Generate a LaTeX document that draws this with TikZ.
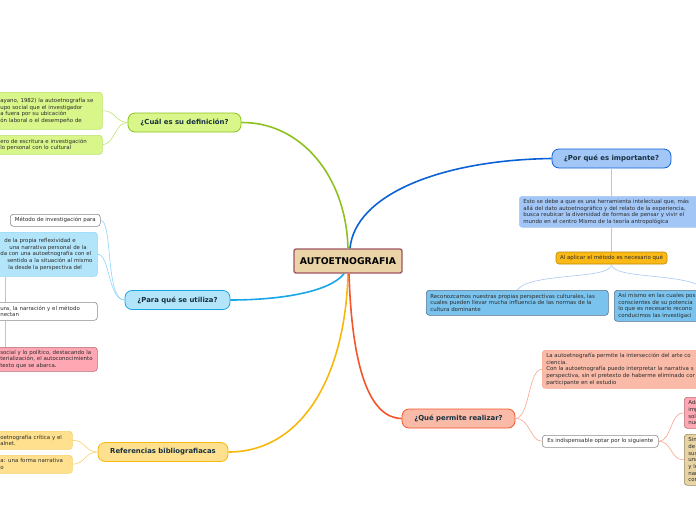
\documentclass[tikz,border=0pt]{standalone}
\usepackage{fontspec}
\setmainfont{DejaVu Sans}
\usetikzlibrary{positioning,calc}

\definecolor{rootfill}{HTML}{E9D3A7}
\definecolor{rootline}{HTML}{9E5560}
\definecolor{topictext}{HTML}{173040}
\definecolor{leaftext}{HTML}{2B2B2B}
\definecolor{greyline}{HTML}{8A8A8A}
% definicion
\definecolor{deffill}{HTML}{D8F68A}
\definecolor{defline}{HTML}{8DC21E}
\definecolor{deftwig}{HTML}{BCE46A}
% para que
\definecolor{usafill}{HTML}{B2E5FA}
\definecolor{usaline}{HTML}{18A6E8}
\definecolor{usatwig}{HTML}{8ED6F7}
\definecolor{pinkfill}{HTML}{FFA8B4}
\definecolor{pinkline}{HTML}{B86B78}
% referencias
\definecolor{reffill}{HTML}{FFE08E}
\definecolor{refline}{HTML}{F8B70C}
\definecolor{reftwig}{HTML}{F9D26A}
% importante
\definecolor{impfill}{HTML}{A2C7F7}
\definecolor{impline}{HTML}{0B62D6}
\definecolor{imptwig}{HTML}{A9C8F3}
\definecolor{ambfill}{HTML}{FBB916}
\definecolor{ambline}{HTML}{BD8606}
\definecolor{skyfill}{HTML}{7AC3EE}
\definecolor{skyline}{HTML}{55708A}
% permite
\definecolor{perfill}{HTML}{F9BAA8}
\definecolor{perline}{HTML}{F2552A}
\definecolor{pertwig}{HTML}{F8A58C}
\definecolor{tanfill}{HTML}{E8D3A2}
\definecolor{tanline}{HTML}{9A8766}

\begin{document}
\begin{tikzpicture}[
        x=1pt, y=-1pt,
        root/.style={rectangle, rounded corners=2pt, draw=rootline, fill=rootfill, line width=1.3pt, font=\fontsize{9.3}{11}\selectfont\bfseries, minimum width=108pt, minimum height=24pt, inner sep=0pt},
        topic/.style={rectangle, rounded corners=7pt, line width=0.8pt, font=\fontsize{6.9}{8}\selectfont\bfseries, text=topictext, minimum height=19pt, inner sep=0pt},
        leaf/.style={rectangle, rounded corners=3pt, line width=0.6pt, font=\fontsize{5.45}{6.7}\selectfont, text=leaftext, align=left, inner xsep=4pt, inner ysep=0pt, anchor=north west},
        branch/.style={line width=1.6pt},
        twig/.style={line width=0.6pt}
    ]
        \useasboundingbox (0,0) rectangle (696,520);
        \coordinate (lx) at (5,0);

        % Central node
        \node[root] (root) at (348,261) {AUTOETNOGRAFIA};

        % Main topics
        \node[topic, draw=defline, fill=deffill, minimum width=113pt] (def) at (184.5,122.5) {¿Cuál es su definición?};
        \node[topic, draw=usaline, fill=usafill, minimum width=105pt] (usa) at (177.5,300) {¿Para qué se utiliza?};
        \node[topic, draw=refline, fill=reffill, minimum width=130pt] (ref) at (163,452) {Referencias bibliografiacas};
        \node[topic, draw=impline, fill=impfill, minimum width=119pt] (imp) at (611.5,158.5) {¿Por qué es importante?};
        \node[topic, draw=perline, fill=perfill, minimum width=113pt] (per) at (458.5,418.5) {¿Qué permite realizar?};

        % Definition leaves
        \node[leaf, draw=deftwig, fill=deffill, text width=98pt, minimum height=37pt] (defA) at (-4,92)
            {ayano, 1982) la autoetnografía se\\upo social que el investigador\\a fuera por su ubicación\\ón laboral o el desempeño de};
        \node[leaf, draw=deftwig, fill=deffill, text width=98pt, minimum height=19pt] (defB) at (-4,135)
            {ero de escritura e investigación\\lo personal con lo cultural};

        % Use leaves
        \node[leaf, draw=greyline, fill=white, minimum width=90pt, minimum height=12pt] (usaA) at (10,214) {Método de investigación para};
        \node[leaf, draw=usatwig, fill=usafill, text width=93pt, minimum height=44pt] (usaB) at (-4,232)
            {\hspace*{4pt}de la propia reflexividad e\\\hspace*{9pt}una narrativa personal de la\\da con una autoetnografía con el\\\hspace*{7pt}sentido a la situación al mismo\\\hspace*{8pt}la desde la perspectiva del};
        \node[leaf, draw=greyline, fill=white, text width=93pt, minimum height=18pt] (usaC) at (-4,302)
            {ura, la narración y el método\\nectan};
        \node[leaf, draw=pinkline, fill=pinkfill, text width=93pt, minimum height=24pt] (usaD) at (-4,347)
            {social y lo político, destacando la\\terialización, el autoconocimiento\\texto que se abarca.};

        % Reference leaves
        \node[leaf, draw=reftwig, fill=reffill, text width=68pt, minimum height=18pt] (refA) at (-4,431)
            {oetnografía crítica y el\\alnet.};
        \node[leaf, draw=reftwig, fill=reffill, text width=68pt, minimum height=18pt] (refB) at (-4,455)
            {a: una forma narrativa\\o};

        % Importance leaves
        \node[leaf, draw=imptwig, fill=impfill, text width=200pt, minimum height=31pt] (impA) at (519,196)
            {Esto se debe a que es una herramienta intelectual que, más\\allá del dato autoetnográfico y del relato de la experiencia,\\busca reubicar la diversidad de formas de pensar y vivir el\\mundo en el centro Mismo de la teoría antropológica};
        \node[leaf, draw=ambline, fill=ambfill, minimum width=111pt, minimum height=12pt, anchor=center] (impB) at (611.5,258)
            {Al aplicar el método es necesario qué};
        \node[leaf, draw=skyline, fill=skyfill, text width=174pt, minimum height=25pt] (impC) at (426,290)
            {Reconozcamos nuestras propias perspectivas culturales, las\\cuales pueden llevar mucha influencia de las normas de la\\cultura dominante};
        \node[leaf, draw=skyline, fill=skyfill, text width=174pt, minimum height=31pt] (impD) at (614,290)
            {Así mismo en las cuales pos\\conscientes de su potencia\\lo que es necesario recono\\conducimos las investigaci};

        % Permite leaves
        \node[leaf, draw=pertwig, fill=perfill, text width=200pt, minimum height=38pt] (perA) at (542,350)
            {La autoetnografía permite la intersección del arte co\\ciencia.\\Con la autoetnografía puedo interpretar la narrativa s\\perspectiva, sin el pretexto de haberme eliminado cor\\participante en el estudio};
        \node[leaf, draw=greyline, fill=white, minimum width=116pt, minimum height=12pt] (perB) at (542,435)
            {Es indispensable optar por lo siguiente};
        \node[leaf, draw=pinkline, fill=pinkfill, text width=60pt, minimum height=31pt] (perC) at (684,397)
            {Ada\\imp\\sol\\nue};
        \node[leaf, draw=tanline, fill=tanfill, text width=60pt, minimum height=51pt] (perD) at (684,434)
            {Sin\\de\\sus\\una\\y lo\\nar\\con};

        % Branches from the centre
        \draw[branch, defline] ([xshift=0pt]root.north) .. controls (346,175) and (300,122) .. (def.east);
        \draw[branch, impline] ([xshift=2pt]root.north) .. controls (355,195) and (440,160) .. (imp.west);
        \draw[branch, usaline] ([xshift=-4pt]root.south) .. controls (330,292) and (280,300) .. (usa.east);
        \draw[branch, refline] ([xshift=0pt]root.south) .. controls (345,380) and (300,452) .. (ref.east);
        \draw[branch, perline] ([xshift=1pt]root.south) .. controls (352,370) and (370,418) .. (per.west);

        % Twigs
        \draw[twig, deftwig] (def.west) .. controls (115,122) and (115,110) .. (defA.east);
        \draw[twig, deftwig] (def.west) .. controls (115,122) and (115,144) .. (defB.east);
        \draw[twig, usatwig] (usa.west) .. controls (105,300) and (113,220) .. (usaA.east);
        \draw[twig, usatwig] (usa.west) .. controls (108,300) and (110,254) .. (usaB.east);
        \draw[twig, usatwig] (usaB.south -| lx) -- (usaC.north -| lx);
        \draw[twig, usatwig] (usaC.south -| lx) -- (usaD.north -| lx);
        \draw[twig, reftwig] (ref.west) .. controls (85,452) and (85,440) .. (refA.east);
        \draw[twig, reftwig] (ref.west) .. controls (85,452) and (85,464) .. (refB.east);
        \draw[twig, imptwig] (imp.south) -- (impA.north -| imp.south);
        \draw[twig, imptwig] (impA.south -| impB.north) -- (impB.north);
        \draw[twig, imptwig] (impB.south) .. controls (612,280) and (530,272) .. (impC.north);
        \draw[twig, imptwig] (impB.south) .. controls (612,280) and (690,272) .. (impD.north);
        \draw[twig, pertwig] (per.east) .. controls (530,418) and (528,369) .. (perA.west);
        \draw[twig, pertwig] (per.east) .. controls (530,418) and (530,441) .. (perB.west);
        \draw[twig, pertwig] (perB.east) .. controls (672,441) and (670,412) .. (perC.west);
        \draw[twig, pertwig] (perB.east) .. controls (672,441) and (670,460) .. (perD.west);
    \end{tikzpicture}
\end{document}
